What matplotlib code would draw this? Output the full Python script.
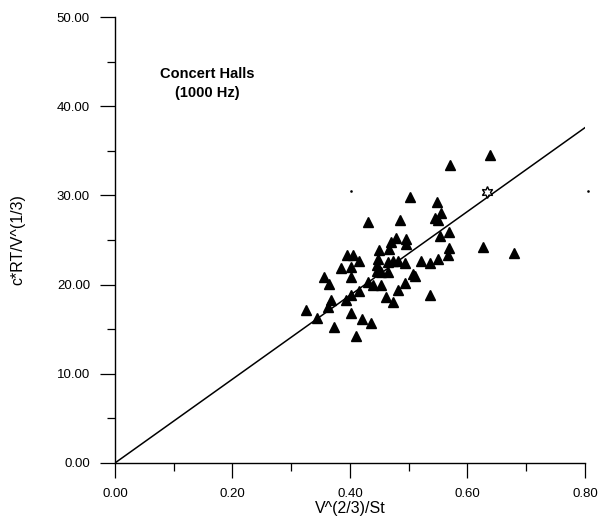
import numpy as np
import matplotlib.pyplot as plt
from matplotlib.ticker import MultipleLocator, FormatStrFormatter

plt.rcParams['font.family'] = ['Liberation Sans', 'DejaVu Sans']

# concert halls, 1000 Hz band
xHalls = [0.325, 0.344, 0.373, 0.411, 0.402, 0.420, 0.435, 0.362, 0.368, 0.393,
          0.402, 0.416, 0.356, 0.365, 0.385, 0.402, 0.401, 0.395, 0.405, 0.416,
          0.430, 0.439, 0.452, 0.446, 0.450, 0.453, 0.464, 0.464, 0.473, 0.482,
          0.493, 0.462, 0.473, 0.482, 0.493, 0.507, 0.510, 0.521, 0.536, 0.549,
          0.536, 0.470, 0.496, 0.430, 0.485, 0.502, 0.548, 0.555, 0.545, 0.571,
          0.568, 0.554, 0.479, 0.467, 0.569, 0.567, 0.639, 0.627, 0.680, 0.496,
          0.447, 0.550, 0.446]
yHalls = [17.1, 16.2, 15.3, 14.2, 16.8, 16.1, 15.7, 17.5, 18.3, 18.3,
          18.8, 19.3, 20.9, 20.1, 21.9, 22.0, 20.9, 23.3, 23.3, 22.7,
          20.3, 20.0, 20.0, 22.2, 23.9, 21.4, 21.4, 22.5, 22.7, 22.7,
          22.4, 18.6, 18.0, 19.4, 20.2, 21.2, 21.0, 22.7, 22.4, 22.9,
          18.8, 24.8, 24.6, 27.0, 27.3, 29.8, 29.3, 28.0, 27.5, 33.4,
          25.9, 25.5, 25.2, 24.0, 24.1, 23.3, 34.5, 24.2, 23.5, 25.1,
          22.9, 27.3, 21.5]

# hollow star point
xStar = [0.634]
yStar = [30.4]

# stray dots in the original
xDots = [0.402, 0.805]
yDots = [30.5, 30.5]

# fitted line through origin
xFit = [0.0, 0.80]
yFit = [0.0, 37.6]

fig = plt.figure(figsize=(6.10, 5.17), dpi=100)
ax = fig.add_axes([0.1885, 0.1045, 0.7705, 0.8625])

ax.plot(xFit, yFit, color='black', lw=1.1, zorder=2)
ax.plot(xHalls, yHalls, linestyle='none', marker='^', markersize=7.6,
        color='black', zorder=3)
ax.plot(xStar, yStar, linestyle='none', marker=(6, 1, 0), markersize=8.5,
        markerfacecolor='white', markeredgecolor='black', markeredgewidth=1.0, zorder=4)
ax.plot(xDots, yDots, linestyle='none', marker='s', markersize=0.8,
        color='black', clip_on=False)

ax.set_xlim(0, 0.8)
ax.set_ylim(0, 50)

for s in ['top', 'right']:
    ax.spines[s].set_visible(False)
ax.spines['left'].set_linewidth(1.0)
ax.spines['bottom'].set_linewidth(1.0)

ax.xaxis.set_major_locator(MultipleLocator(0.2))
ax.xaxis.set_minor_locator(MultipleLocator(0.1))
ax.yaxis.set_major_locator(MultipleLocator(10))
ax.yaxis.set_minor_locator(MultipleLocator(5))
ax.xaxis.set_major_formatter(FormatStrFormatter('%.2f'))
ax.yaxis.set_major_formatter(FormatStrFormatter('%.2f'))

ax.tick_params(which='major', direction='out', length=11, width=0.9, labelsize=9.5, pad=7)
ax.tick_params(which='minor', direction='out', length=5.8, width=0.9)

ax.set_xlabel('V^(2/3)/St', fontsize=11.5)
ax.set_ylabel('c*RT/V^(1/3)', fontsize=11.5)
ax.xaxis.set_label_coords(0.5, -0.085)
ax.yaxis.set_label_coords(-0.19, 0.5)

ax.text(0.196, 0.852, 'Concert Halls\n(1000 Hz)', transform=ax.transAxes,
        ha='center', va='center', fontsize=10.5, fontweight='bold', linespacing=1.45)

fig.savefig('out.png', dpi=100)
